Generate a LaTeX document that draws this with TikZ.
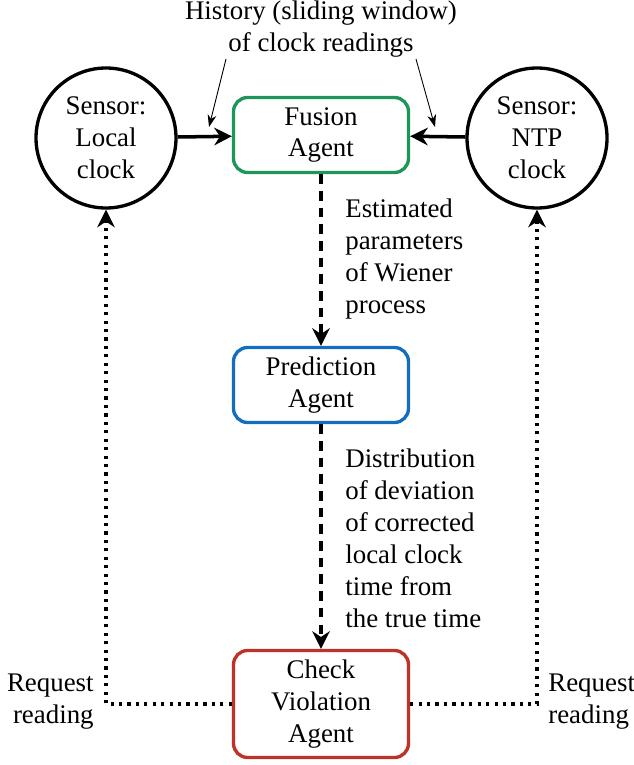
\documentclass[tikz,border=0pt]{standalone}
\usepackage{fontspec}
\setmainfont{Liberation Serif}
\usetikzlibrary{arrows.meta,positioning}

\definecolor{fusiongreen}{RGB}{30,150,90}
\definecolor{predblue}{RGB}{20,110,190}
\definecolor{checkred}{RGB}{190,50,40}

\begin{document}
\begin{tikzpicture}[font=\fontsize{15.3}{18.2}\selectfont]
    % Define styles
    \tikzset{
        agent/.style={draw, line width=1.9pt, rounded corners=8pt, minimum width=3.5cm, align=center},
        sensor/.style={draw, circle, line width=1.9pt, minimum size=2.8cm, inner sep=0pt, align=center},
        feed/.style={line width=2pt, -{Stealth[length=10pt, width=10pt]}},
        flow/.style={line width=2pt, dash pattern=on 5.5pt off 4pt, -{Stealth[length=10pt, width=10pt]}},
        request/.style={line width=2pt, dash pattern=on 1.8pt off 3pt, -{Stealth[length=10pt, width=10pt]}},
        pointer/.style={line width=0.5pt, -{Stealth[length=7pt, width=5pt]}},
        note/.style={align=left, inner sep=0pt}
    }

    \useasboundingbox (0,0) rectangle (12.68,-15.3);

    % Agents
    \node[agent, fusiongreen, minimum height=1.5cm] (fusion) at (6.42,-2.70) {\color{black}Fusion\\\color{black}Agent};
    \node[agent, predblue, minimum height=1.5cm] (predict) at (6.42,-7.70) {\color{black}Prediction\\\color{black}Agent};
    \node[agent, checkred, minimum height=2.14cm] (check) at (6.42,-14.08) {\color{black}Check\\\color{black}Violation\\\color{black}Agent};

    % Sensors
    \node[sensor] (local) at (2.12,-2.76) {Sensor:\\Local\\clock};
    \node[sensor] (ntp) at (10.74,-2.76) {Sensor:\\NTP\\clock};

    % History annotation
    \node[align=center] (history) at (6.42,-0.58) {History (sliding window)\\of clock readings};
    \coordinate (hleft) at (4.52,-1.18);
    \coordinate (hleftend) at (4.18,-2.54);
    \coordinate (hright) at (8.32,-1.18);
    \coordinate (hrightend) at (8.70,-2.54);
    \draw[pointer] (hleft) -- (hleftend);
    \draw[pointer] (hright) -- (hrightend);

    % Readings into fusion
    \draw[feed] (local) -- (fusion);
    \draw[feed] (ntp) -- (fusion);

    % Flow between agents
    \draw[flow] (fusion) -- (predict);
    \draw[flow] (predict) -- (check);
    \node[note, anchor=west] (estimated) at (6.9,-5.18) {Estimated\\parameters\\of Wiener\\process};
    \node[note, anchor=west] (distrib) at (6.9,-10.76) {Distribution\\of deviation\\of corrected\\local clock\\time from\\the true time};

    % Requests back to sensors
    \draw[request] (check.west) -| (local.south);
    \draw[request] (check.east) -| (ntp.south);
    \node[note, anchor=east, align=right] (reqleft) at (1.88,-14.04) {Request\\reading};
    \node[note, anchor=west] (reqright) at (10.96,-14.04) {Request\\reading};
\end{tikzpicture}
\end{document}
